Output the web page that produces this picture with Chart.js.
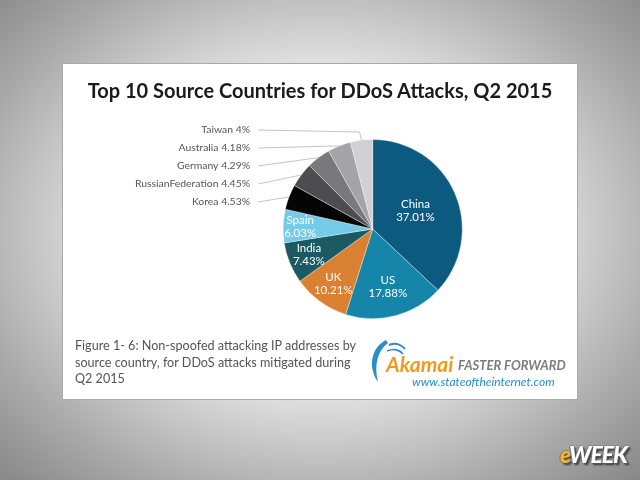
<!DOCTYPE html>
<html>
<head>
<meta charset="utf-8">
<script src="https://cdn.jsdelivr.net/npm/chart.js@4.4.1/dist/chart.umd.min.js"></script>
<style>
  html, body { margin: 0; padding: 0; }
  body {
    width: 640px; height: 480px; position: relative; overflow: hidden;
    background: radial-gradient(ellipse 70% 72% at 50% 48%, #f8f8f8 0%, #e6e6e6 45%, #a9a9a9 80%, #8a8a8a 100%);
    font-family: "Lato", "DejaVu Sans", sans-serif;
  }
  #card {
    position: absolute; left: 62px; top: 63px; width: 514px; height: 335px;
    background: #fff; border: 1px solid #a9a9a9;
  }
  #chart { position: absolute; left: 0; top: 0; }
  .txt { position: absolute; white-space: nowrap; }
  #title { left: 62px; width: 516px; top: 78px; text-align: center; font-size: 20px; font-weight: 700; color: #1a1a1a; }
  #caption { left: 75px; top: 338px; font-size: 12.6px; line-height: 16.5px; color: #555; }
  #akamai { left: 386px; top: 351px; font-size: 21px; font-weight: 700; font-style: italic; color: #f39a1e; }
  #faster { left: 458px; top: 357px; font-size: 13px; font-weight: 700; font-style: italic; color: #7d7d7d; }
  #url { left: 412px; top: 374px; font-size: 12px; font-style: italic; color: #2b8ec8; }
  #eweek { left: 560px; top: 440px; font-size: 23px; font-weight: 900; font-style: italic; letter-spacing: -1px;
           color: #fff; text-shadow: 1px 1px 0 #555, -1px 0 0 #777, 0 -1px 0 #888, 2px 2px 2px #333; }
  #eweek span { color: #f3b52a; }
  #swoosh { position: absolute; left: 366px; top: 337px; }
</style>
</head>
<body>
<div id="card"></div>
<canvas id="chart" width="640" height="480"></canvas>
<div id="title" class="txt">Top 10 Source Countries for DDoS Attacks, Q2 2015</div>
<div id="caption" class="txt">Figure 1- 6: Non-spoofed attacking IP addresses by<br>source country, for DDoS attacks mitigated during<br>Q2 2015</div>
<svg id="swoosh" width="44" height="48" viewBox="0 0 44 48">
  <path d="M20 3 C6 10 1 29 12 45 C8 29 11 14 22 6 Z" fill="#2b8ec8"/>
  <path d="M23 8 C30 5 36 8 39 12" stroke="#2b8ec8" stroke-width="2" fill="none"/>
  <path d="M21 14 C28 11 34 13 37 17" stroke="#2b8ec8" stroke-width="1.6" fill="none"/>
</svg>
<div id="akamai" class="txt">Akamai</div>
<div id="faster" class="txt">FASTER FORWARD</div>
<div id="url" class="txt">www.stateoftheinternet.com</div>
<div id="eweek" class="txt"><span>e</span>WEEK</div>
<script>
const countries = ['China', 'US', 'UK', 'India', 'Spain', 'Korea', 'RussianFederation', 'Germany', 'Australia', 'Taiwan'];
const shares = [37.01, 17.88, 10.21, 7.43, 6.03, 4.53, 4.45, 4.29, 4.18, 4];
const sliceColors = ['#0c5a80', '#1585a9', '#da8131', '#1c5a63', '#74cbe8', '#050505', '#4d4d4f', '#79797b', '#a4a4a7', '#d1d1d5'];

// first five get labels inside the slice, the rest go to the left with leader lines
const insideRadius = [0.52, 0.67, 0.75, 0.77, 0.81];

const sliceLabels = {
  id: 'sliceLabels',
  afterDatasetsDraw(chart) {
    const ctx = chart.ctx;
    const arcs = chart.getDatasetMeta(0).data;
    ctx.save();
    arcs.forEach((arc, i) => {
      const p = arc.getProps(['x', 'y', 'startAngle', 'endAngle', 'outerRadius']);
      const mid = (p.startAngle + p.endAngle) / 2;
      if (i < insideRadius.length) {
        const r = p.outerRadius * insideRadius[i];
        const x = p.x + Math.cos(mid) * r;
        const y = p.y + Math.sin(mid) * r;
        ctx.fillStyle = '#fff';
        ctx.font = '11.5px Lato';
        ctx.textAlign = 'center';
        ctx.textBaseline = 'middle';
        ctx.fillText(countries[i], x, y - 6.5);
        ctx.fillText(shares[i] + '%', x, y + 6.5);
      } else {
        const ly = 130 + 18 * (countries.length - 1 - i);
        const ex = p.x + Math.cos(mid) * p.outerRadius;
        const ey = p.y + Math.sin(mid) * p.outerRadius;
        ctx.strokeStyle = '#c4c4c4';
        ctx.lineWidth = 1;
        ctx.beginPath();
        ctx.moveTo(258, ly);
        if (ey > ly + 3) {
          ctx.lineTo(ex - 2, ly + 2);
        }
        ctx.lineTo(ex, ey);
        ctx.stroke();
        ctx.fillStyle = '#555';
        ctx.font = '10.4px Lato';
        ctx.textAlign = 'right';
        ctx.textBaseline = 'middle';
        ctx.fillText(countries[i] + ' ' + shares[i] + '%', 250, ly);
      }
    });
    ctx.restore();
  }
};

new Chart(document.getElementById('chart'), {
  type: 'pie',
  data: {
    labels: countries,
    datasets: [{
      data: shares,
      backgroundColor: sliceColors,
      borderColor: 'rgba(255,255,255,0.45)',
      borderWidth: 0.8
    }]
  },
  options: {
    responsive: false,
    animation: false,
    layout: { padding: { left: 282.7, right: 177.3, top: 139, bottom: 161 } },
    plugins: {
      legend: { display: false },
      tooltip: { enabled: false },
      title: { display: false }
    }
  },
  plugins: [sliceLabels]
});
</script>
</body>
</html>
